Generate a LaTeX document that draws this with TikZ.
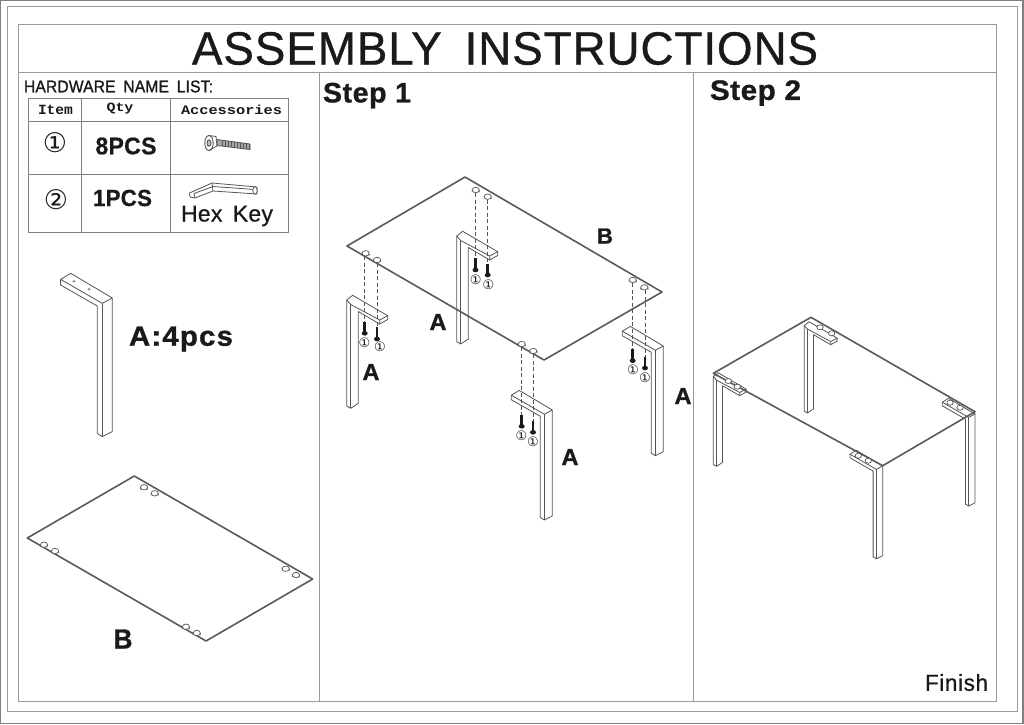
\documentclass[tikz,border=0pt]{standalone}
\usepackage{graphicx}
\usepackage{fontspec}
\setmainfont{Liberation Sans}
\newfontfamily\monof{Liberation Mono}
\newfontfamily\symf{DejaVu Sans}
\newcommand{\fitbox}[3]{\resizebox*{#1pt}{#2pt}{#3}}
\newcommand{\spaced}[2]{\addfontfeatures{LetterSpace=#1,FakeBold=#2}}
\definecolor{frameg}{HTML}{9A9A9A}
\definecolor{plateg}{HTML}{5A5A5A}
\definecolor{legg}{HTML}{555555}
\definecolor{inkk}{HTML}{1A1A1A}
\tikzset{
  frameline/.style={draw=frameg,line width=.9pt},
  plateline/.style={draw=plateg,line width=1.6pt,line join=round},
  legline/.style={draw=legg,line width=.8pt,line join=round},
  dashline/.style={draw=legg,line width=.7pt,dash pattern=on 4pt off 2.5pt},
  holeline/.style={draw=legg,line width=.7pt,fill=white},
  txt/.style={inner sep=0pt,outer sep=0pt,text=inkk},
  boltline/.style={draw=inkk,line width=2.6pt},
  boltcap/.style={fill=inkk,draw=none},
}
% leg with arm to the left: #1,#2 right corner; #3 scale; #4 vertical length
\newcommand{\legleft}[4]{%
  \begin{scope}[shift={(#1,#2)},scale=#3]
    \draw[legline] (0,0) -- (-33,-19.6) -- (-41,-14.8) -- (-8,4.2) -- cycle;
    \draw[legline] (-41,-14.8) -- (-41,-10.3) -- (-12,6.3) -- (-12,#4+1.5) -- (-8,#4+4) -- (0,#4) -- (0,0);
    \draw[legline] (-8,4.2) -- (-8,#4+4);
  \end{scope}}
% leg with arm to the right: #1,#2 outer corner; #3 scale; #4 vertical length
\newcommand{\legright}[4]{%
  \begin{scope}[shift={(#1,#2)},scale=#3]
    \draw[legline] (0,0) -- (6,-4.7) -- (41,15.7) -- (33,20) -- (4,4.5) -- cycle;
    \draw[legline] (41,15.7) -- (41,19.5) -- (33,24) -- (33,20);
    \draw[legline] (33,24) -- (11.6,11.5) -- (11.6,#4-2.7) -- (4,#4+2.3) -- (0,#4) -- (0,0);
    \draw[legline] (4,4.5) -- (4,#4+2.3);
  \end{scope}}
\newcommand{\hole}[2]{%
  \draw[holeline] (#1-3.6,#2) -- (#1-3.6,#2+1.2) arc[start angle=180,end angle=360,x radius=3.6,y radius=2.7] -- (#1+3.6,#2);
  \draw[holeline] (#1,#2) ellipse[x radius=3.6,y radius=2.7];}
% x, hole y, bolt top, bolt bottom, mark x, mark y
\newcommand{\screw}[6]{%
  \draw[dashline] (#1,#2+3) -- (#1,#3);
  \draw[boltline] (#1,#3) -- (#1,#4-2);
  \fill[boltcap] (#1,#4-1) ellipse[x radius=3,y radius=2.3];
  \node[txt,font=\symf\fontsize{13pt}{14pt}\selectfont] at (#5,#6) {①};}
\begin{document}
\begin{tikzpicture}[x=1pt,y=-1pt]
\useasboundingbox (0,0) rectangle (1024,724);
\fill[white] (0,0) rectangle (1024,724);
% frames
\draw[draw=gray,line width=1.4pt] (.5,.5) rectangle (1023,723.3);
\draw[frameline] (7,6.7) rectangle (1017,711.5);
\draw[frameline] (18.7,24.7) rectangle (996.5,701.5);
\draw[frameline] (18.7,72) -- (996.5,72);
\draw[frameline] (319,72) -- (319,701.5);
\draw[frameline] (693,72) -- (693,701.5);
% table
\draw[frameline,draw=gray] (28.7,98.3) rectangle (288.7,232.3);
\draw[frameline,draw=gray] (28.7,121.7) -- (288.7,121.7) (28.7,174) -- (288.7,174);
\draw[frameline,draw=gray] (81.3,98.3) -- (81.3,232.3) (170.7,98.3) -- (170.7,232.3);
\node[txt] (hitem) at (55.5,109.5) {\fitbox{35}{9.5}{\monof\bfseries Item}};
\node[txt] (hqty) at (120,108.5) {\fitbox{27}{11}{\monof\bfseries Qty}};
\node[txt] (hacc) at (231.5,109.5) {\fitbox{101}{9.5}{\monof\bfseries Accessories}};
\node[txt,font=\symf\fontsize{27pt}{28pt}\selectfont] (i1) at (55,142.5) {①};
\node[txt,font=\symf\fontsize{27pt}{28pt}\selectfont] (i2) at (56,199.3) {②};
% bolt
\draw[draw=legg,line width=.8pt,fill=gray!70] (217,139.5) -- (250,144) -- (250,149.5) -- (217,145.5) -- cycle;
\foreach \bx in {222,225,...,249}{\draw[legg,line width=.5pt] (\bx,140.5+\bx*.135-222*.135) -- (\bx,146+\bx*.12-222*.12);}
\draw[draw=legg,line width=.9pt,fill=white] (209,143) ellipse[x radius=4.2,y radius=7.5];
\draw[draw=legg,line width=.9pt,fill=gray!50] (209,143) ellipse[x radius=2,y radius=3.2];
\draw[legg,line width=.8pt] (209,135.5) -- (216,136.5) -- (217,146) -- (209,150.5);
% hex key
\draw[legline,fill=white] (189.5,193) -- (212,183) -- (257,187) -- (257,194) -- (213,191) -- (195,198) -- (190,197) -- cycle;
\draw[legline] (194,193.5) -- (195,198) (194,193.5) -- (213,186.5) -- (255,189.5) (212,183) -- (213,191);
\draw[legline,fill=white] (255,190.5) ellipse[x radius=2.2,y radius=3.8];
% panel leg A
\legleft{112.3}{298}{1.26}{106}
\fill[legg!70] (74,281.3) ellipse[x radius=1.6,y radius=1.2];
\fill[legg!70] (89,289.3) ellipse[x radius=1.6,y radius=1.2];
% panel plate B
\draw[plateline] (134.3,476) -- (312.7,579) -- (206,641) -- (27.3,538) -- cycle;
\foreach \hx/\hy in {144/487.3,154.7/493.3,44/544.7,55/551,285.7/568.7,296/575,186/626.7,196.7/633}{\hole{\hx}{\hy}}
% step 1
\legright{346.7}{300}{1}{106}
\legright{456.7}{236}{1}{105.7}
\legleft{552.3}{410}{1}{106}
\legleft{663.3}{346}{1}{105.7}
\draw[plateline] (465,177) -- (662,292) -- (544,360) -- (347,246) -- cycle;
\foreach \hx/\hy in {475.7/190,487.7/196.7,365.7/253.3,377/260,632.7/280,644.3/287.3,521.7/344,533.3/351}{\hole{\hx}{\hy}}
\screw{475.5}{190}{258.3}{271}{475.7}{280}
\screw{487.7}{196.7}{264}{276}{488.5}{284.5}
\screw{364.7}{253.3}{321.7}{334.3}{364.5}{342.3}
\screw{377}{260}{327.3}{340}{380}{346.7}
\screw{632.7}{280}{349}{361.7}{633}{370}
\screw{645}{287.3}{357}{369}{645}{377.7}
\screw{521.7}{344}{415}{427.3}{521.5}{435.7}
\screw{533}{351}{420.7}{433.3}{533}{442}
% step 2
\legright{713.3}{376.5}{.8}{110}
\legright{804.3}{325.5}{.8}{107}
\legleft{975}{414}{.8}{111}
\legleft{882.7}{466}{.8}{112}
\draw[plateline] (811,317.3) -- (975,411.7) -- (882.7,465.7) -- (713.3,373.3) -- cycle;
\foreach \hx/\hy in {728.3/381,737.3/386.7,820/327.3,831.7/333.3,950/402.7,960/407.7,858.3/455.7,868.3/460.7}{\draw[holeline] (\hx,\hy) ellipse[x radius=3.2,y radius=2.5];}
% emboldened texts come last
\node[txt] (title) at (505,48.5) {\fitbox{626}{33}{\spaced{2}{.8}ASSEMBLY\hspace{.5em}INSTRUCTIONS}};
\node[txt] (hwlist) at (118.5,86.5) {\fitbox{189}{12}{\spaced{1}{1.2}HARDWARE\hspace{.5em}NAME\hspace{.5em}LIST:}};
\node[txt] (q1) at (126,146) {\fitbox{61}{17}{\bfseries\spaced{1}{.6}8PCS}};
\node[txt] (q2) at (122.5,198) {\fitbox{59}{16.5}{\bfseries\spaced{1}{.6}1PCS}};
\node[txt] (hex) at (227,216) {\fitbox{92}{20.5}{\spaced{1}{.6}Hex\hspace{.45em}Key}};
\node[txt] (a4) at (181,339) {\fitbox{104}{25}{\bfseries\spaced{4}{1}A:4pcs}};
\node[txt] (bp) at (123,639) {\fitbox{19}{19}{\bfseries\spaced{0}{1}B}};
\node[txt] (s1) at (367,95.5) {\fitbox{88}{25.5}{\bfseries\spaced{2}{1}Step\hspace{.3em}1}};
\node[txt] (lb) at (605,236) {\fitbox{16}{15}{\bfseries\spaced{0}{1}B}};
\node[txt] (la1) at (438,322) {\fitbox{17}{16}{\bfseries\spaced{0}{1}A}};
\node[txt] (la2) at (371,372) {\fitbox{17}{16}{\bfseries\spaced{0}{1}A}};
\node[txt] (la3) at (570,457) {\fitbox{17}{16}{\bfseries\spaced{0}{1}A}};
\node[txt] (la4) at (683,396) {\fitbox{17}{16}{\bfseries\spaced{0}{1}A}};
\node[txt] (s2) at (755.5,93) {\fitbox{91}{25.5}{\bfseries\spaced{2}{1}Step\hspace{.3em}2}};
\node[txt] (fin) at (956.5,682.5) {\fitbox{63}{17}{\spaced{3}{.8}Finish}};
\end{tikzpicture}
\end{document}
